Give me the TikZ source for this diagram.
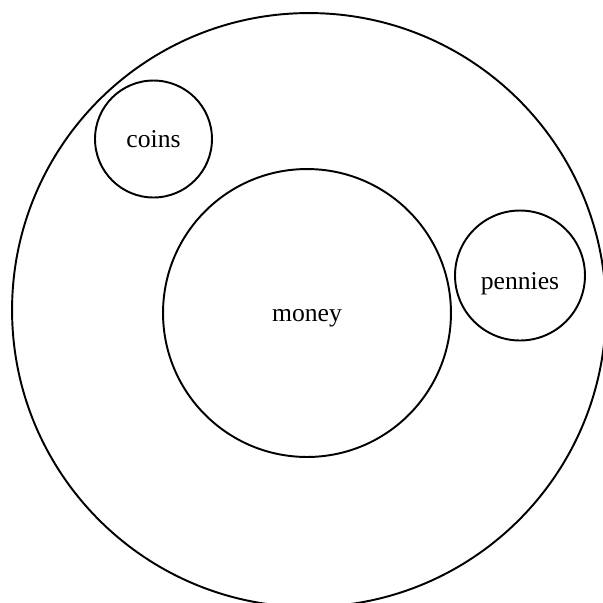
\documentclass[tikz,border=0pt]{standalone}
\usepackage{fontspec}
\setmainfont{Liberation Serif}
\begin{document}
\begin{tikzpicture}[x=0.02cm, y=-0.02cm,
  set/.style={draw, circle, line width=1.1pt, inner sep=0pt, text depth=0pt, text height=0.34cm,
    font=\fontsize{14.6}{17}\selectfont}]
 \useasboundingbox (0,0) rectangle (603,603);
 \node[set, minimum size=11.88cm] (all) at (309,310) {};
 \node[set, minimum size=2.34cm] (coins) at (153.5,139) {coins};
 \node[set, minimum size=5.76cm] (money) at (307,313) {money};
 \node[set, minimum size=2.6cm, text height=0.54cm] (pennies) at (520,275.5) {pennies};
\end{tikzpicture}
\end{document}
